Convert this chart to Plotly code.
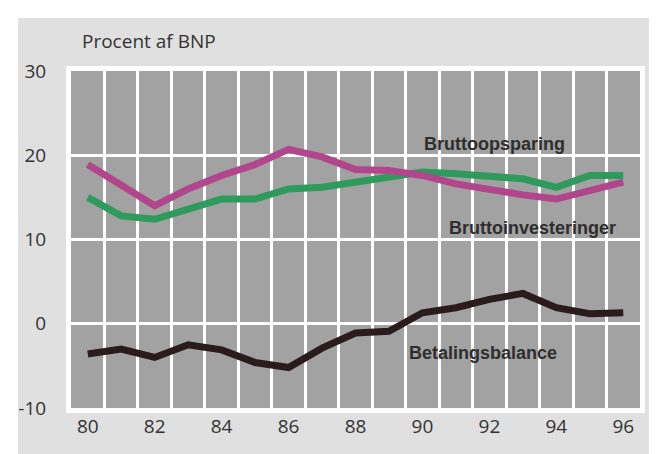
import plotly.graph_objects as go

# Years (two-digit, as on the axis)
years = list(range(80, 97))
x_ticks = years[::2]
x_tick_labels = [str(y) for y in x_ticks]
y_ticks = [-10, 0, 10, 20, 30]
y_tick_labels = ["-10", "0", "10", "20", "30"]

# Procent af BNP
bruttoopsparing = [18.9, 16.4, 14.0, 16.0, 17.6, 18.9, 20.7, 19.8, 18.3, 18.2,
                   17.6, 16.6, 15.9, 15.3, 14.8, 15.8, 16.8]
bruttoinvesteringer = [15.0, 12.8, 12.4, 13.6, 14.8, 14.8, 16.0, 16.2, 16.8, 17.2,
                       18.0, 17.8, 17.6, 17.2, 16.2, 17.6, 17.6]
betalingsbalance = [-3.6, -3.0, -4.0, -2.5, -3.1, -4.6, -5.2, -2.9, -1.1, -0.9,
                    1.3, 1.9, 2.9, 3.6, 1.9, 1.2, 1.3]

label_names = ["Bruttoopsparing", "Bruttoinvesteringer", "Betalingsbalance"]
label_x = [92.15, 93.3, 91.8]
label_y = [21.3, 11.4, -3.5]

text_col = "#333333"
tick_font = dict(family="Open Sans, Arial, sans-serif", size=19, color=text_col)
label_font = "Liberation Sans Narrow, Arial Narrow, Liberation Sans, sans-serif"

fig = go.Figure()

fig.add_trace(go.Scatter(x=years, y=bruttoinvesteringer, mode="lines",
                         line=dict(color="#2e9a5c", width=7), showlegend=False))
fig.add_trace(go.Scatter(x=years, y=bruttoopsparing, mode="lines",
                         line=dict(color="#b2468c", width=7), showlegend=False))
fig.add_trace(go.Scatter(x=years, y=betalingsbalance, mode="lines",
                         line=dict(color="#2a1c1c", width=7), showlegend=False))

for name, lx, ly in zip(label_names, label_x, label_y):
    fig.add_annotation(x=lx, y=ly, text=f"<b>{name}</b>", showarrow=False,
                       font=dict(family=label_font, size=18, color="#2e2e2e"))

fig.add_annotation(x=0.016, y=1.089, xref="paper", yref="paper", text="Procent af BNP",
                   showarrow=False, xanchor="left", yanchor="middle",
                   font=dict(family="Open Sans, Arial, sans-serif", size=19, color=text_col))

# white margins round the grey panel (outside the plot area)
for x0, x1, y0, y1 in [(-0.2, -0.093, -0.3, 1.3), (1.035, 1.2, -0.3, 1.3),
                       (-0.2, 1.2, 1.157, 1.3), (-0.2, 1.2, -0.3, -0.148)]:
    fig.add_shape(type="rect", xref="paper", yref="paper", x0=x0, x1=x1, y0=y0, y1=y1,
                  fillcolor="white", line=dict(width=0), layer="below")

fig.update_layout(
    width=657, height=454,
    margin=dict(l=63, r=25, t=63, b=54),
    paper_bgcolor="#e0e0e0",
    plot_bgcolor="#a2a2a2",
    showlegend=False,
)

fig.update_xaxes(
    range=[79.5, 96.5], automargin=False,
    tickvals=x_ticks, ticktext=x_tick_labels,
    tickfont=tick_font, ticklabelstandoff=-3,
    showgrid=False, zeroline=False,
    showline=True, mirror=True, linecolor="white", linewidth=5,
    minor=dict(tickvals=[y + 0.5 for y in years[:-1]], showgrid=True,
               gridcolor="white", gridwidth=3, ticklen=0),
)
fig.update_yaxes(
    range=[-10, 30], automargin=False,
    tickvals=y_ticks, ticktext=y_tick_labels,
    tickfont=tick_font, ticklabelstandoff=16,
    showgrid=True, gridcolor="white", gridwidth=3,
    zeroline=True, zerolinecolor="white", zerolinewidth=3,
    showline=True, mirror=True, linecolor="white", linewidth=5,
)

fig.write_html("out.html")
